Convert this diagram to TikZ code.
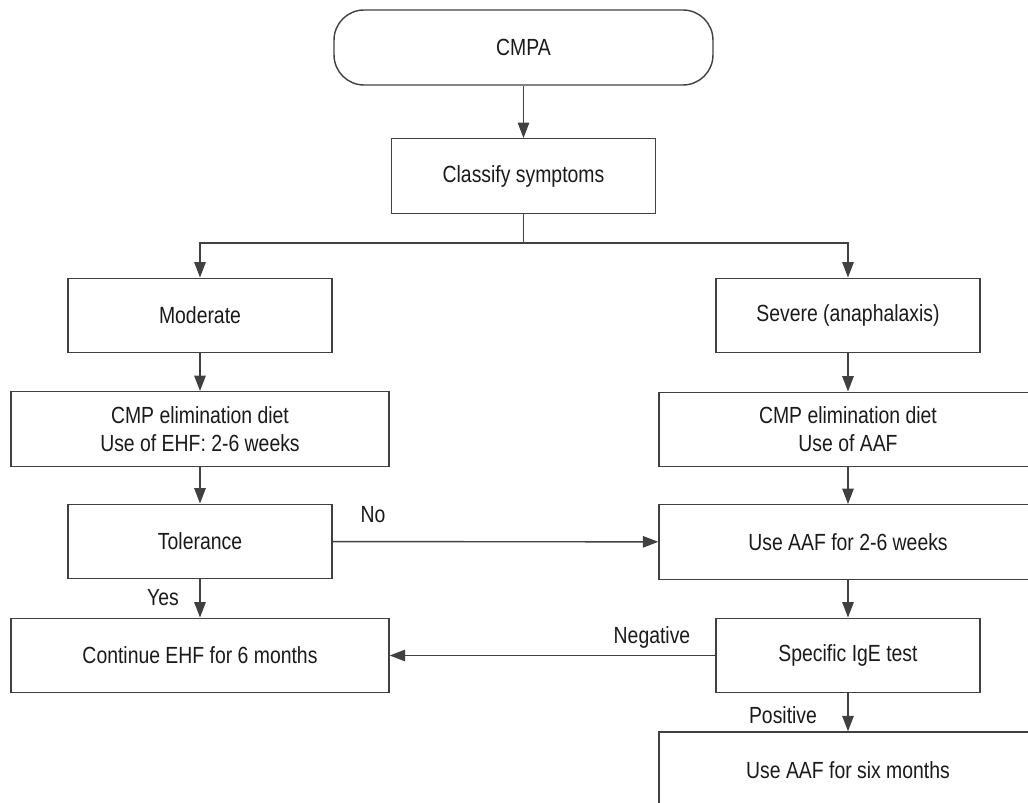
\documentclass[tikz,border=0pt]{standalone}
\usepackage{fontspec}
\setmainfont{Liberation Sans}[FakeStretch=0.83]
\usetikzlibrary{arrows.meta}
\definecolor{linegray}{HTML}{404040}
\definecolor{textgray}{HTML}{1A1A1A}
\tikzset{>={Triangle[length=0.31cm,width=0.23cm]}}
\tikzset{
  box/.style={draw=linegray, line width=0.8pt, text=textgray, align=center, inner sep=0pt, minimum height=1.49cm},
  narrowbox/.style={box, minimum width=5.28cm},
  widebox/.style={box, minimum width=7.56cm},
  lbl/.style={text=textgray, inner sep=0pt},
  arr/.style={->, draw=linegray, line width=0.8pt}
}

\begin{document}
\begin{tikzpicture}[x=0.02cm, y=-0.02cm, font=\fontsize{13.3}{16}\selectfont]
    \clip (0,0) rectangle (1028,803);
    \node[box, rounded corners=0.6cm, minimum width=7.58cm, minimum height=1.5cm] (cmpa) at (523.5,47.5) {CMPA};
    \node[narrowbox] (classify) at (523.5,176) {Classify symptoms};
    \node[narrowbox] (moderate) at (200,315.5) {Moderate};
    \node[narrowbox] (severe) at (848,315.5) {Severe (anaphalaxis)};
    \node[widebox] (dietL) at (200,429) {CMP elimination diet\\Use of EHF: 2-6 weeks};
    \node[widebox] (dietR) at (848,429.5) {CMP elimination diet\\Use of AAF};
    \node[narrowbox] (tolerance) at (200,541.5) {Tolerance};
    \node[widebox] (aafA) at (848,542) {Use AAF for 2-6 weeks};
    \node[widebox] (ehf) at (200,655.5) {Continue EHF for 6 months};
    \node[narrowbox] (ige) at (848,655.5) {Specific IgE test};
    \node[widebox, minimum height=1.52cm] (aafB) at (848,770) {Use AAF for six months};
    \coordinate (split) at (523.5,243);

    \draw[arr] (cmpa) -- (classify);
    \draw[arr, -] (classify) -- (split);
    \draw[arr] (split) -| (moderate);
    \draw[arr] (split) -| (severe);
    \draw[arr] (moderate) -- (dietL);
    \draw[arr] (severe) -- (dietR);
    \draw[arr] (dietL) -- (tolerance);
    \draw[arr] (dietR) -- (aafA);
    \draw[arr] (tolerance) -- (aafA);
    \draw[arr] (tolerance) -- (ehf);
    \draw[arr] (aafA) -- (ige);
    \draw[arr] (ige) -- (ehf);
    \draw[arr] (ige) -- (aafB);

    \node[lbl] (no) at (373,515) {No};
    \node[lbl] (yes) at (163,598) {Yes};
    \node[lbl] (negative) at (652,637) {Negative};
    \node[lbl] (positive) at (783,715) {Positive};
\end{tikzpicture}
\end{document}
